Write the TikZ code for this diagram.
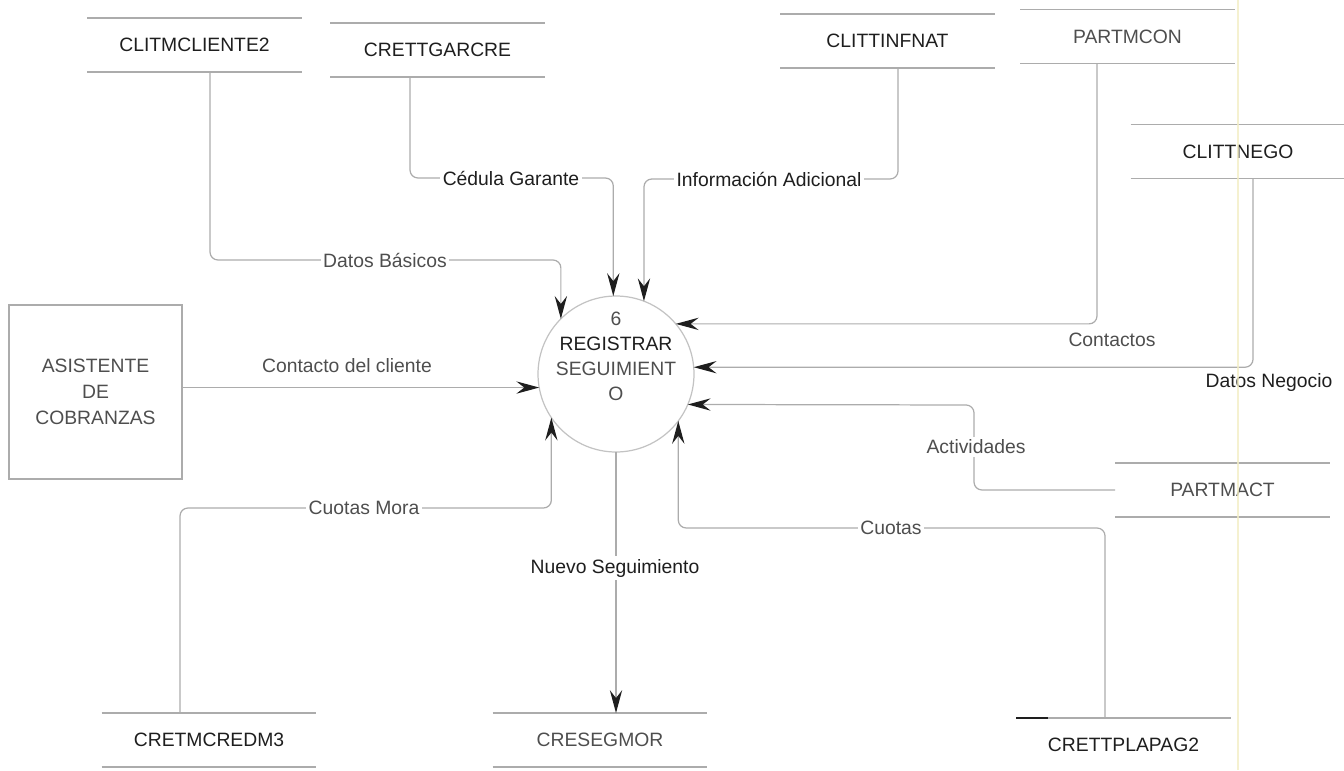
\documentclass[tikz,border=0pt]{standalone}
\usepackage{fontspec}
\setmainfont{Liberation Sans}
\usetikzlibrary{arrows.meta}
\definecolor{linegray}{RGB}{172,172,172}
\definecolor{ringgray}{RGB}{195,195,195}
\definecolor{inkdark}{RGB}{30,30,30}
\definecolor{inkgray}{RGB}{78,78,78}
\definecolor{edgeyellow}{RGB}{242,237,196}
\begin{document}
\begin{tikzpicture}[x=0.02cm,y=-0.02cm,
  every node/.style={font=\fontsize{11}{14}\selectfont},
  store/.style={minimum width=4.3cm, minimum height=1.08cm, inner sep=0pt, outer sep=0pt},
  storeline/.style={draw=linegray, line width=0.7pt},
  flow/.style={draw=linegray, line width=0.7pt, rounded corners=4.5pt,
    -{Stealth[length=13pt,width=7pt,inset=4.5pt,color=inkdark]}},
  lbl/.style={fill=white, inner sep=1.5pt},
  dark/.style={text=inkdark},
  soft/.style={text=inkgray}]
\useasboundingbox (0,0) rectangle (1344,770);

% process bubble
\node[circle, draw=ringgray, line width=0.7pt, minimum size=3.12cm, inner sep=0pt, outer sep=0pt] (proc) at (616,374) {};
\node[align=center, inner sep=0pt, font=\fontsize{11}{14.2}\selectfont] (procT) at (616,356)
  {\textcolor{inkgray}{6}\\\textcolor{inkdark}{REGISTRAR}\\\textcolor{inkgray}{SEGUIMIENT}\\\textcolor{inkgray}{O}};

% external entity
\node[draw=linegray, line width=0.7pt, minimum width=3.46cm, minimum height=3.48cm, inner sep=0pt,
  align=center, soft, font=\fontsize{11}{14.7}\selectfont] (asi) at (95.5,392)
  {ASISTENTE\\DE\\COBRANZAS};

% data stores
\node[store, dark] (cli) at (194.5,45)  {CLITMCLIENTE2};
\node[store, dark] (gar) at (437.5,50)  {CRETTGARCRE};
\node[store, dark] (inf) at (887.5,41)  {CLITTINFNAT};
\node[store, soft] (con) at (1127.5,36.5) {PARTMCON};
\node[store, dark] (neg) at (1238,151.5) {CLITTNEGO};
\node[store, soft] (act) at (1222.5,490) {PARTMACT};
\node[store, dark] (cre) at (209,740)   {CRETMCREDM3};
\node[store, soft] (seg) at (600,740)   {CRESEGMOR};
\node[store, dark] (pla) at (1123.5,745) {CRETTPLAPAG2};
\foreach \s in {cli,gar,inf,con,neg,act,cre,seg,pla}
  \draw[storeline] (\s.north west) -- (\s.north east) (\s.south west) -- (\s.south east);
\draw[draw=inkdark, line width=0.8pt] (pla.north west) -- ([xshift=0.64cm]pla.north west);

% bend points of the flows
\coordinate (kDB) at (210,260);
\coordinate (kCG) at (410,178);
\coordinate (kIA) at (898,179);
\coordinate (kCO) at (1097,0);
\coordinate (kDN) at (1253,0);
\coordinate (kAC) at (974,405);
\coordinate (kCM) at (180,508);
\coordinate (kCU) at (1105,528);

% data flows
\draw[flow] (kDB |- cli.south) -- (kDB) -| (proc.135.9);
\draw[flow] (kCG |- gar.south) -- (kCG) -| (proc.92.2);
\draw[flow] (kIA |- inf.south) -- (kIA) -| (proc.69.8);
\draw[flow] (kCO |- con.south) |- (proc.40.8);
\draw[flow] (kDN |- neg.south) |- (proc.5.9);
\draw[flow] (act.west) -| (kAC) -- (proc.-23.4);
\draw[flow] (asi.east |- proc.190.3) -- (proc.190.3);
\draw[flow] (kCM |- cre.north) -- (kCM) -| (proc.214.9);
\draw[flow] (kCU |- pla.north) -- (kCU) -| (proc.-37.3);
\draw[flow] (proc.south) -- (proc.south |- seg.north);

% flow labels
\node[lbl, soft] (lDB) at (385,260) {Datos Básicos};
\node[lbl, dark] (lCG) at (511,178) {Cédula Garante};
\node[lbl, dark] (lIA) at (769,179) {Información Adicional};
\node[soft] (lCO) at (1112,340) {Contactos};
\node[dark] (lDN) at (1269,382) {Datos Negocio};
\node[lbl, soft] (lAC) at (976,447) {Actividades};
\node[soft] (lCC) at (347,366) {Contacto del cliente};
\node[lbl, soft] (lCM) at (364,508) {Cuotas Mora};
\node[lbl, soft] (lCU) at (891,528) {Cuotas};
\node[lbl, dark] (lNS) at (615,568) {Nuevo Seguimiento};

% sheet edge running down the page
\draw[draw=edgeyellow, line width=0.9pt, opacity=0.8] (1238,0) -- (1238,770);
\end{tikzpicture}
\end{document}
